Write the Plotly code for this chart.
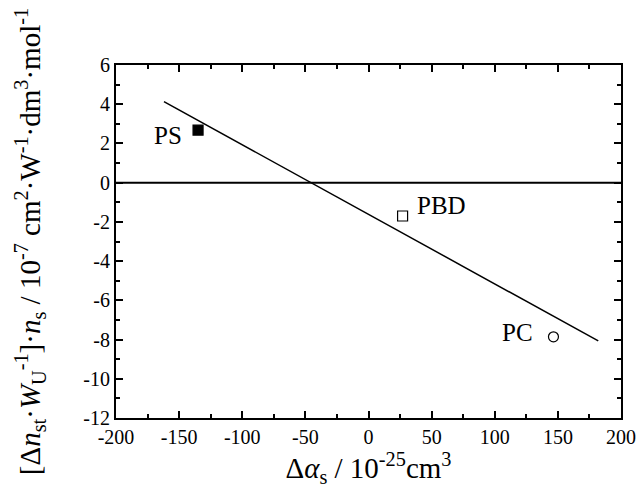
import plotly.graph_objects as go

# Data
polymers = ["PS", "PBD", "PC"]
delta_alpha = [-135, 27, 146.5]
values = [2.68, -1.70, -7.86]
symbols = ["square", "square-open", "circle-open"]
fit_x = [-162, 182]
fit_y = [4.13, -8.07]
x_ticks = [-200, -150, -100, -50, 0, 50, 100, 150, 200]
x_ticklabels = ["-200", "-150", "-100", "-50", "0", "50", "100", "150", "200"]
y_ticks = [-12, -10, -8, -6, -4, -2, 0, 2, 4, 6]
y_ticklabels = ["-12", "-10", "-8", "-6", "-4", "-2", "0", "2", "4", "6"]

FONT = "Liberation Serif"

fig = go.Figure()
fig.add_trace(go.Scatter(x=[-200, 200], y=[0, 0], mode="lines",
                         line=dict(color="black", width=2), showlegend=False, hoverinfo="skip"))
fig.add_trace(go.Scatter(x=fit_x, y=fit_y, mode="lines",
                         line=dict(color="black", width=1.5), showlegend=False))
fig.add_trace(go.Scatter(x=delta_alpha, y=values, mode="markers",
                         marker=dict(symbol=symbols, size=10, color="black",
                                     line=dict(color="black", width=1.2)),
                         showlegend=False))

shifts = {"PS": (-14, -5, "right"), "PBD": (12, 11, "left"), "PC": (-18, 4, "right")}
for name, xv, yv in zip(polymers, delta_alpha, values):
    dx, dy, anc = shifts[name]
    fig.add_annotation(x=xv, y=yv, text=name, showarrow=False, xanchor=anc, yanchor="middle",
                       xshift=dx, yshift=dy, font=dict(family=FONT, size=25, color="black"))

axis_common = dict(showline=True, linecolor="black", linewidth=2, mirror="ticks",
                   ticks="inside", ticklen=7, tickwidth=1.5, tickcolor="black",
                   showgrid=False, zeroline=False, automargin=False,
                   tickfont=dict(family=FONT, size=20, color="black"))

fig.update_xaxes(range=[-200, 200], tickmode="array", tickvals=x_ticks, ticktext=x_ticklabels,
                 minor=dict(ticks="inside", dtick=25, tick0=0, ticklen=4, tickwidth=1.5, tickcolor="black", showgrid=False),
                 title=dict(text="Δ<i>α</i><sub>s</sub> / 10<sup>-25</sup>cm<sup>3</sup>",
                            font=dict(family=FONT, size=29, color="black"), standoff=8),
                 **axis_common)
fig.update_yaxes(range=[-12, 6], tickmode="array", tickvals=y_ticks, ticktext=y_ticklabels,
                 minor=dict(ticks="inside", dtick=1, tick0=0, ticklen=4, tickwidth=1.5, tickcolor="black", showgrid=False),
                 title=dict(text="[Δ<i>n</i><sub>st</sub>·<i>W</i><sub>U</sub><sup>-1</sup>]·<i>n</i><sub>s</sub> / 10<sup>-7</sup> cm<sup>2</sup>·W<sup>-1</sup>·dm<sup>3</sup>·mol<sup>-1</sup>",
                            font=dict(family=FONT, size=29, color="black"), standoff=34),
                 **axis_common)

fig.update_layout(width=640, height=492, margin=dict(l=116, r=19, t=65, b=74),
                  plot_bgcolor="white", paper_bgcolor="white",
                  font=dict(family=FONT, color="black"))

fig.write_html("out.html")
